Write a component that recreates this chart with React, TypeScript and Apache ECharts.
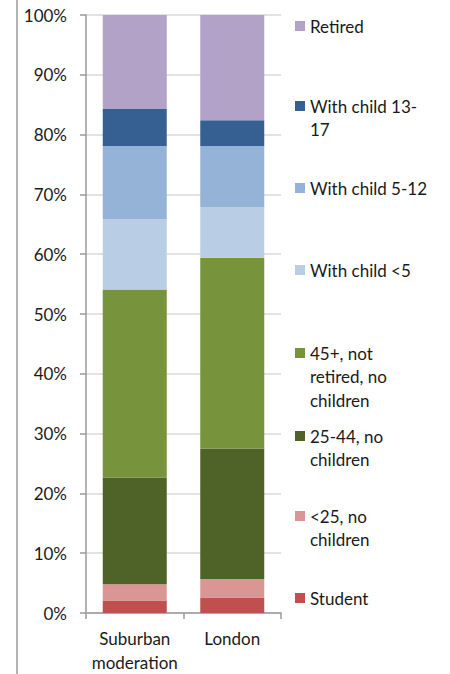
import React, { useEffect, useRef } from "react";
import * as echarts from "echarts";

// Household types, bottom of the stack first
const segments = [
  "Student",
  "<25, no children",
  "25-44, no children",
  "45+, not retired, no children",
  "With child <5",
  "With child 5-12",
  "With child 13-17",
  "Retired",
];

const categories = ["Suburban moderation", "London"];

// Share of each household type (%), per category
const suburbanValues = [2.1, 2.7, 17.8, 31.5, 11.8, 12.2, 6.2, 15.7];
const londonValues = [2.6, 3.1, 21.8, 31.9, 8.5, 10.2, 4.3, 17.6];

const segmentColors = [
  "#C0504D",
  "#D99694",
  "#4F6228",
  "#77933C",
  "#B9CDE5",
  "#95B3D7",
  "#376092",
  "#B3A2C7",
];

// Wrapped legend text, one entry per segment
const legendLines = [
  ["Student"],
  ["<25, no", "children"],
  ["25-44, no", "children"],
  ["45+, not", "retired, no", "children"],
  ["With child <5"],
  ["With child 5-12"],
  ["With child 13-", "17"],
  ["Retired"],
];

const yTicks = { min: 0, max: 100, interval: 10 };

const FONT = "Lato, 'Open Sans', sans-serif";
const FS = 17;
const TEXT = "#1a1a1a";
const LH = 23.5;
// vertical centre of each legend entry's first line
const legendFirstLine = [598, 516, 436, 353, 270, 188, 106, 26];

export default function App() {
  const ref = useRef<HTMLDivElement>(null);

  useEffect(() => {
    document.body.style.margin = "0";
    const chart = echarts.init(ref.current!, null, { renderer: "svg" });

    const series = segments.map((name, i) => ({
      name,
      type: "bar",
      stack: "total",
      barWidth: 64,
      itemStyle: { color: segmentColors[i] },
      data: [suburbanValues[i], londonValues[i]],
    }));

    // The legend text is centred on its marker, so blank leading lines
    // push the first real line onto the marker.
    const legends = segments.map((name, i) => {
      const n = legendLines[i].length;
      const text = "\n".repeat(n - 1) + legendLines[i].join("\n");
      return {
        data: [name],
        orient: "vertical",
        left: 295,
        top: legendFirstLine[i] - ((2 * n - 1) * LH) / 2,
        padding: 0,
        itemWidth: 10,
        itemHeight: 10,
        itemGap: 0,
        icon: "rect",
        selectedMode: false,
        formatter: () => text,
        textStyle: {
          fontFamily: FONT,
          fontSize: FS,
          color: TEXT,
          lineHeight: LH,
        },
      };
    });

    chart.setOption({
      animation: false,
      grid: { left: 86, top: 15, width: 195, height: 600 },
      xAxis: {
        type: "category",
        data: categories,
        axisLine: { lineStyle: { color: "#9a9a9a", width: 1.5 } },
        axisTick: { show: true, length: 6, lineStyle: { color: "#9a9a9a", width: 1.5 } },
        axisLabel: {
          interval: 0,
          fontFamily: FONT,
          fontSize: FS,
          color: TEXT,
          lineHeight: LH,
          margin: 14,
          formatter: (v: string) => v.replace(" ", "\n"),
        },
      },
      yAxis: {
        type: "value",
        min: yTicks.min,
        max: yTicks.max,
        interval: yTicks.interval,
        axisLine: { show: true, lineStyle: { color: "#9a9a9a", width: 1.5 } },
        axisTick: { show: true, length: 6, lineStyle: { color: "#9a9a9a", width: 1.5 } },
        splitLine: { lineStyle: { color: "#d9d9d9", width: 1.5 } },
        axisLabel: {
          fontFamily: FONT,
          fontSize: FS,
          color: TEXT,
          margin: 19,
          formatter: "{value}%",
        },
      },
      legend: legends,
      series,
      graphic: [
        {
          type: "line",
          shape: { x1: 17, y1: 0, x2: 17, y2: 674 },
          style: { stroke: "#9a9a9a", lineWidth: 1.5 },
        },
      ],
    });

    return () => chart.dispose();
  }, []);

  return <div ref={ref} style={{ width: 450, height: 674 }} />;
}
